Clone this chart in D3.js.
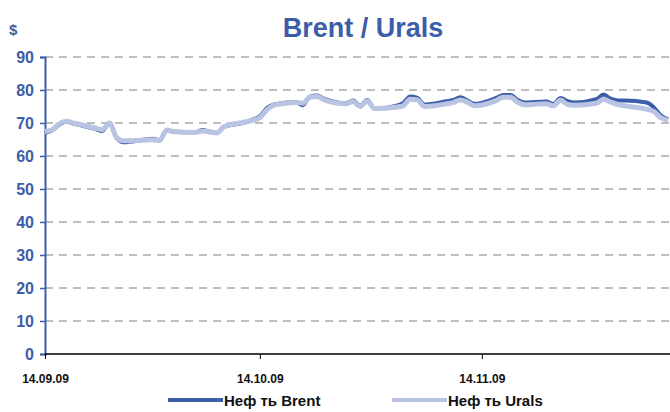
<!DOCTYPE html>
<html>
<head>
<meta charset="utf-8">
<script src="https://cdn.jsdelivr.net/npm/d3@7"></script>
<style>
  html, body { margin: 0; padding: 0; background: #fff; }
  svg { display: block; font-family: "Liberation Sans", Arial, sans-serif; }
</style>
</head>
<body>
<svg id="chart" width="670" height="412"></svg>
<script>
// Trading days, 14.09.2009 – 10.12.2009
const dates = [
  '2009-09-14','2009-09-15','2009-09-16','2009-09-17','2009-09-18',
  '2009-09-21','2009-09-22','2009-09-23','2009-09-24','2009-09-25',
  '2009-09-28','2009-09-29','2009-09-30','2009-10-01','2009-10-02',
  '2009-10-05','2009-10-06','2009-10-07','2009-10-08','2009-10-09',
  '2009-10-12','2009-10-13','2009-10-14','2009-10-15','2009-10-16',
  '2009-10-19','2009-10-20','2009-10-21','2009-10-22','2009-10-23',
  '2009-10-26','2009-10-27','2009-10-28','2009-10-29','2009-10-30',
  '2009-11-02','2009-11-03','2009-11-04','2009-11-05','2009-11-06',
  '2009-11-09','2009-11-10','2009-11-11','2009-11-12','2009-11-13',
  '2009-11-16','2009-11-17','2009-11-18','2009-11-19','2009-11-20',
  '2009-11-23','2009-11-24','2009-11-25','2009-11-26','2009-11-27',
  '2009-11-30','2009-12-01','2009-12-02','2009-12-03','2009-12-04',
  '2009-12-07','2009-12-08','2009-12-09','2009-12-10'
];

const brent = [
  67.0, 67.8, 69.5, 70.4, 69.8,
  68.2, 67.6, 70.0, 65.5, 64.2,
  65.0, 65.2, 64.8, 67.8, 67.3,
  67.2, 67.9, 67.4, 67.0, 68.8,
  70.2, 71.0, 72.0, 74.5, 75.6,
  76.4, 75.4, 78.0, 78.3, 77.3,
  76.0, 76.8, 75.2, 77.0, 74.4,
  75.2, 76.0, 78.0, 77.6, 75.6,
  76.6, 77.0, 77.8, 76.8, 75.8,
  77.6, 78.5, 78.5, 77.0, 76.2,
  76.5, 75.8, 77.6, 76.6, 76.2,
  77.2, 78.6, 77.4, 76.8, 76.8,
  76.2, 74.8, 72.3, 71.1
];

const urals = [
  67.4, 68.0, 69.8, 70.5, 70.0,
  68.5, 68.0, 70.0, 65.6, 64.6,
  64.8, 64.9, 64.7, 67.9, 67.4,
  67.1, 67.6, 67.3, 67.0, 68.9,
  70.3, 70.8, 71.6, 74.0, 75.4,
  76.2, 76.0, 77.8, 78.0, 77.0,
  75.8, 76.5, 75.0, 76.7, 74.4,
  74.8, 75.2, 77.2, 77.0, 75.0,
  75.8, 76.2, 77.0, 76.3, 75.2,
  76.8, 77.8, 77.8, 76.3, 75.5,
  75.8, 75.2, 77.0, 75.6, 75.4,
  76.0, 77.2, 76.3, 75.6, 75.2,
  74.2, 73.5, 71.6, 70.8
];

const yTicks = [0, 10, 20, 30, 40, 50, 60, 70, 80, 90];
const xTicks = ['2009-09-14', '2009-10-14', '2009-11-14'];
const seriesNames = ['Неф ть Brent', 'Неф ть Urals'];

const DARK  = '#3c5da8';
const LIGHT = '#b9c4e2';

const parse = d3.utcParse('%Y-%m-%d');
const svg = d3.select('#chart');

const x = d3.scaleUtc()
  .domain([parse('2009-09-14'), parse('2009-12-10')])
  .range([45, 668]);
const y = d3.scaleLinear().domain([0, 90]).range([354, 57]);

// Title
svg.append('text')
  .attr('x', 363).attr('y', 37)
  .attr('text-anchor', 'middle')
  .attr('font-size', 27).attr('font-weight', 'bold')
  .attr('fill', DARK)
  .text('Brent / Urals');

svg.append('text')
  .attr('x', 9).attr('y', 35)
  .attr('font-size', 15).attr('font-weight', 'bold')
  .attr('fill', DARK)
  .text('$');

// Grid lines
svg.append('g')
  .selectAll('line')
  .data(yTicks.filter(d => d > 0))
  .join('line')
  .attr('x1', 45).attr('x2', 670)
  .attr('y1', d => y(d)).attr('y2', d => y(d))
  .attr('stroke', '#7f7f7f')
  .attr('stroke-width', 1)
  .attr('stroke-dasharray', '8,6');

// Y axis
const yAxis = svg.append('g')
  .attr('transform', 'translate(45,0)')
  .call(d3.axisLeft(y).tickValues(yTicks).tickSize(5).tickPadding(6));
yAxis.select('.domain').attr('stroke', DARK).attr('stroke-width', 2);
yAxis.selectAll('.tick line').attr('stroke', DARK).attr('stroke-width', 1.5);
yAxis.selectAll('.tick text')
  .attr('fill', DARK).attr('font-size', 16).attr('font-weight', 'bold')
  .attr('font-family', '"Liberation Sans", Arial, sans-serif');

// X axis
const xAxis = svg.append('g')
  .attr('transform', 'translate(0,354)')
  .call(d3.axisBottom(x)
    .tickValues(xTicks.map(parse))
    .tickFormat(d3.utcFormat('%d.%m.%y'))
    .tickSize(5).tickPadding(15)
    .tickSizeOuter(0));
xAxis.select('.domain').attr('stroke', '#000').attr('stroke-width', 1.5)
  .attr('d', 'M45,0H670');
xAxis.selectAll('.tick line').attr('stroke', '#000');
xAxis.selectAll('.tick text')
  .attr('fill', '#111').attr('font-size', 12).attr('font-weight', 'bold')
  .attr('font-family', '"Liberation Sans", Arial, sans-serif');

// Lines
const line = d3.line()
  .x((d, i) => x(parse(dates[i])))
  .y(d => y(d))
  .curve(d3.curveMonotoneX);

svg.append('path')
  .datum(brent)
  .attr('fill', 'none')
  .attr('stroke', DARK)
  .attr('stroke-width', 4)
  .attr('stroke-linejoin', 'round')
  .attr('d', line);

svg.append('path')
  .datum(urals)
  .attr('fill', 'none')
  .attr('stroke', LIGHT)
  .attr('stroke-width', 5)
  .attr('stroke-linejoin', 'round')
  .attr('d', line);

// Legend
const legend = svg.append('g');
const legendItems = [
  { name: seriesNames[0], color: DARK,  x: 168 },
  { name: seriesNames[1], color: LIGHT, x: 392 }
];
legendItems.forEach(it => {
  legend.append('line')
    .attr('x1', it.x).attr('x2', it.x + 55)
    .attr('y1', 400).attr('y2', 400)
    .attr('stroke', it.color).attr('stroke-width', 4);
  legend.append('text')
    .attr('x', it.x + 56).attr('y', 406)
    .attr('font-size', 15).attr('font-weight', 'bold')
    .attr('fill', '#111')
    .text(it.name);
});
</script>
</body>
</html>
